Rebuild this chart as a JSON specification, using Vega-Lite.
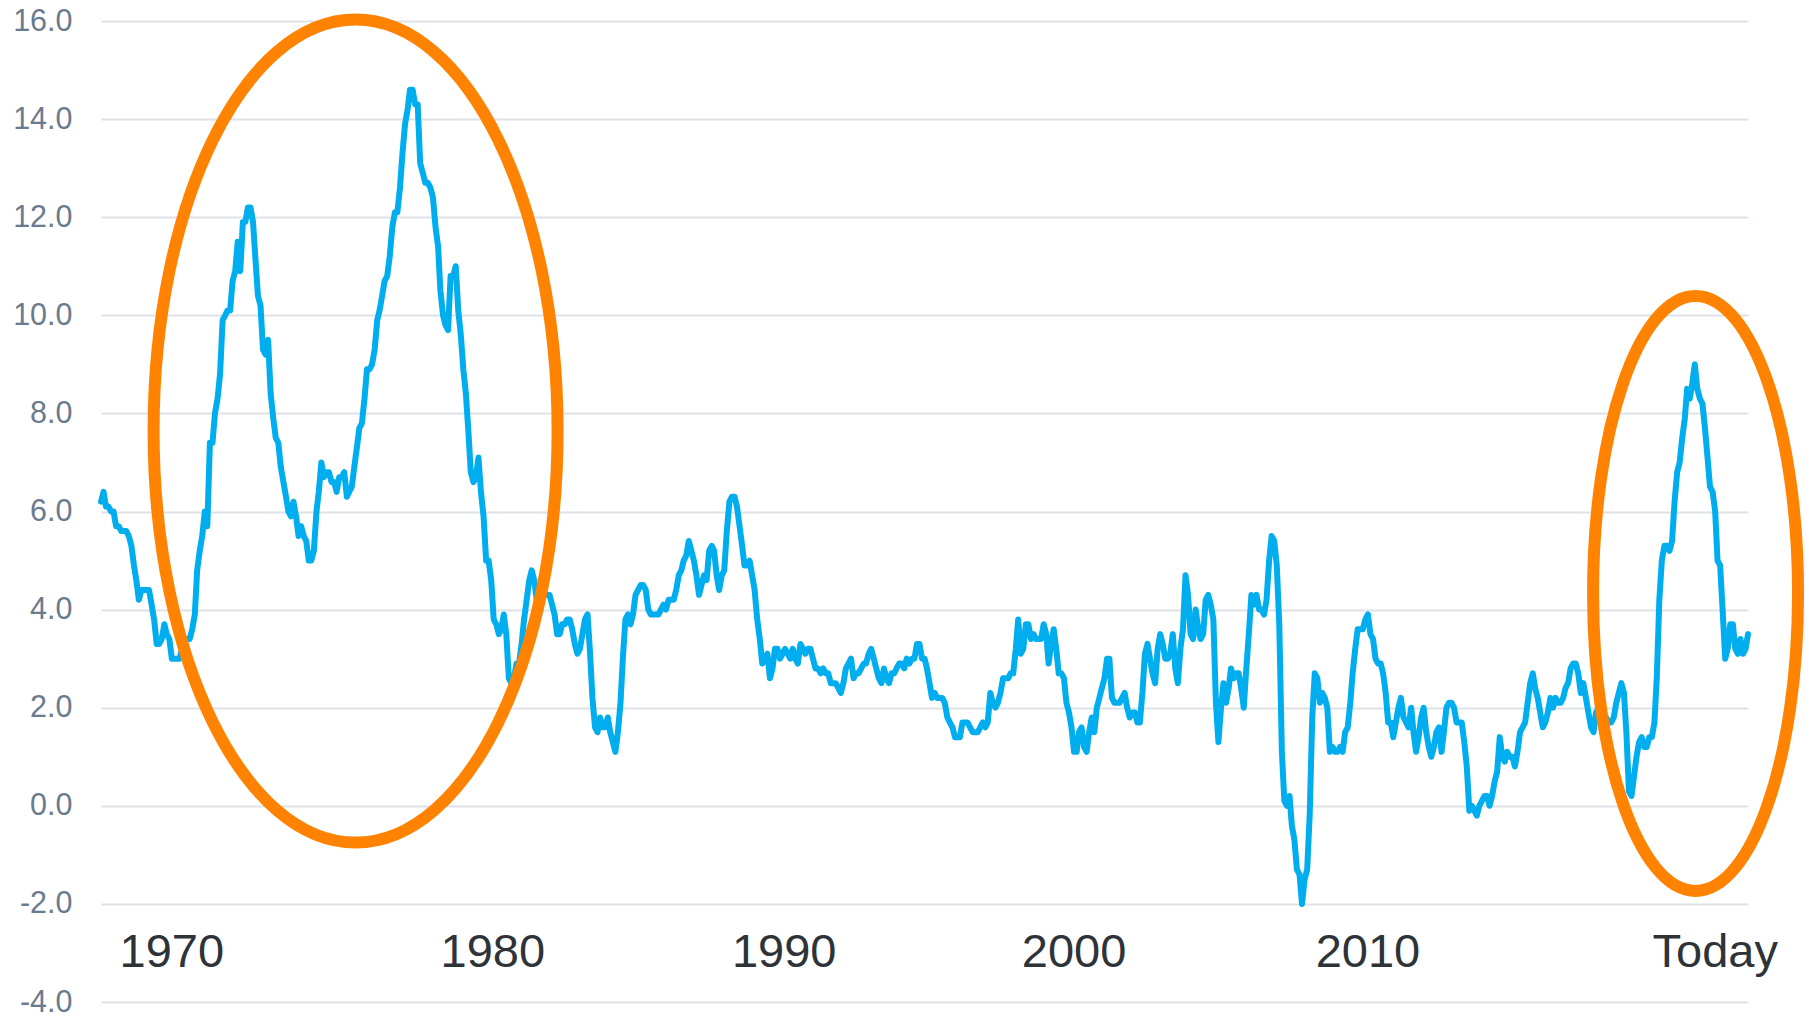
{
  "$schema": "https://vega.github.io/schema/vega-lite/v6.json",
  "width": 1647,
  "height": 981,
  "autosize": {"type": "none"},
  "padding": {"left": 101, "top": 21, "right": 66, "bottom": 15},
  "background": "white",
  "config": {"view": {"stroke": null}},
  "datasets": {
    "cpi": [
      {"d":"1970-01","v":6.2},{"d":"1970-02","v":6.4},{"d":"1970-03","v":6.1},{"d":"1970-04","v":6.1},{"d":"1970-05","v":6.0},{"d":"1970-06","v":6.0},{"d":"1970-07","v":5.7},{"d":"1970-08","v":5.7},{"d":"1970-09","v":5.6},{"d":"1970-10","v":5.6},{"d":"1970-11","v":5.6},{"d":"1970-12","v":5.5},
      {"d":"1971-01","v":5.3},{"d":"1971-02","v":4.9},{"d":"1971-03","v":4.6},{"d":"1971-04","v":4.2},{"d":"1971-05","v":4.4},{"d":"1971-06","v":4.4},{"d":"1971-07","v":4.4},{"d":"1971-08","v":4.4},{"d":"1971-09","v":4.1},{"d":"1971-10","v":3.8},{"d":"1971-11","v":3.3},{"d":"1971-12","v":3.3},
      {"d":"1972-01","v":3.4},{"d":"1972-02","v":3.7},{"d":"1972-03","v":3.5},{"d":"1972-04","v":3.4},{"d":"1972-05","v":3.0},{"d":"1972-06","v":3.0},{"d":"1972-07","v":3.0},{"d":"1972-08","v":3.0},{"d":"1972-09","v":3.2},{"d":"1972-10","v":3.4},{"d":"1972-11","v":3.4},{"d":"1972-12","v":3.4},
      {"d":"1973-01","v":3.6},{"d":"1973-02","v":3.9},{"d":"1973-03","v":4.8},{"d":"1973-04","v":5.2},{"d":"1973-05","v":5.5},{"d":"1973-06","v":6.0},{"d":"1973-07","v":5.7},{"d":"1973-08","v":7.4},{"d":"1973-09","v":7.4},{"d":"1973-10","v":8.0},{"d":"1973-11","v":8.3},{"d":"1973-12","v":8.8},
      {"d":"1974-01","v":9.9},{"d":"1974-02","v":10.0},{"d":"1974-03","v":10.1},{"d":"1974-04","v":10.1},{"d":"1974-05","v":10.7},{"d":"1974-06","v":10.9},{"d":"1974-07","v":11.5},{"d":"1974-08","v":10.9},{"d":"1974-09","v":11.9},{"d":"1974-10","v":11.9},{"d":"1974-11","v":12.2},{"d":"1974-12","v":12.2},
      {"d":"1975-01","v":11.9},{"d":"1975-02","v":11.1},{"d":"1975-03","v":10.4},{"d":"1975-04","v":10.2},{"d":"1975-05","v":9.3},{"d":"1975-06","v":9.2},{"d":"1975-07","v":9.5},{"d":"1975-08","v":8.4},{"d":"1975-09","v":7.9},{"d":"1975-10","v":7.5},{"d":"1975-11","v":7.4},{"d":"1975-12","v":6.9},
      {"d":"1976-01","v":6.6},{"d":"1976-02","v":6.3},{"d":"1976-03","v":6.0},{"d":"1976-04","v":5.9},{"d":"1976-05","v":6.2},{"d":"1976-06","v":5.9},{"d":"1976-07","v":5.5},{"d":"1976-08","v":5.7},{"d":"1976-09","v":5.5},{"d":"1976-10","v":5.4},{"d":"1976-11","v":5.0},{"d":"1976-12","v":5.0},
      {"d":"1977-01","v":5.2},{"d":"1977-02","v":6.0},{"d":"1977-03","v":6.4},{"d":"1977-04","v":7.0},{"d":"1977-05","v":6.7},{"d":"1977-06","v":6.8},{"d":"1977-07","v":6.8},{"d":"1977-08","v":6.6},{"d":"1977-09","v":6.6},{"d":"1977-10","v":6.4},{"d":"1977-11","v":6.7},{"d":"1977-12","v":6.7},
      {"d":"1978-01","v":6.8},{"d":"1978-02","v":6.3},{"d":"1978-03","v":6.4},{"d":"1978-04","v":6.5},{"d":"1978-05","v":6.9},{"d":"1978-06","v":7.3},{"d":"1978-07","v":7.7},{"d":"1978-08","v":7.8},{"d":"1978-09","v":8.3},{"d":"1978-10","v":8.9},{"d":"1978-11","v":8.9},{"d":"1978-12","v":9.0},
      {"d":"1979-01","v":9.3},{"d":"1979-02","v":9.9},{"d":"1979-03","v":10.1},{"d":"1979-04","v":10.4},{"d":"1979-05","v":10.7},{"d":"1979-06","v":10.8},{"d":"1979-07","v":11.2},{"d":"1979-08","v":11.8},{"d":"1979-09","v":12.1},{"d":"1979-10","v":12.1},{"d":"1979-11","v":12.6},{"d":"1979-12","v":13.3},
      {"d":"1980-01","v":13.9},{"d":"1980-02","v":14.2},{"d":"1980-03","v":14.6},{"d":"1980-04","v":14.6},{"d":"1980-05","v":14.3},{"d":"1980-06","v":14.3},{"d":"1980-07","v":13.1},{"d":"1980-08","v":12.9},{"d":"1980-09","v":12.7},{"d":"1980-10","v":12.7},{"d":"1980-11","v":12.6},{"d":"1980-12","v":12.4},
      {"d":"1981-01","v":11.8},{"d":"1981-02","v":11.4},{"d":"1981-03","v":10.5},{"d":"1981-04","v":10.0},{"d":"1981-05","v":9.8},{"d":"1981-06","v":9.7},{"d":"1981-07","v":10.8},{"d":"1981-08","v":10.8},{"d":"1981-09","v":11.0},{"d":"1981-10","v":10.1},{"d":"1981-11","v":9.6},{"d":"1981-12","v":8.9},
      {"d":"1982-01","v":8.4},{"d":"1982-02","v":7.6},{"d":"1982-03","v":6.8},{"d":"1982-04","v":6.6},{"d":"1982-05","v":6.7},{"d":"1982-06","v":7.1},{"d":"1982-07","v":6.4},{"d":"1982-08","v":5.9},{"d":"1982-09","v":5.0},{"d":"1982-10","v":5.0},{"d":"1982-11","v":4.6},{"d":"1982-12","v":3.8},
      {"d":"1983-01","v":3.7},{"d":"1983-02","v":3.5},{"d":"1983-03","v":3.6},{"d":"1983-04","v":3.9},{"d":"1983-05","v":3.5},{"d":"1983-06","v":2.6},{"d":"1983-07","v":2.5},{"d":"1983-08","v":2.6},{"d":"1983-09","v":2.9},{"d":"1983-10","v":2.9},{"d":"1983-11","v":3.3},{"d":"1983-12","v":3.8},
      {"d":"1984-01","v":4.2},{"d":"1984-02","v":4.6},{"d":"1984-03","v":4.8},{"d":"1984-04","v":4.6},{"d":"1984-05","v":4.2},{"d":"1984-06","v":4.2},{"d":"1984-07","v":4.2},{"d":"1984-08","v":4.3},{"d":"1984-09","v":4.3},{"d":"1984-10","v":4.3},{"d":"1984-11","v":4.1},{"d":"1984-12","v":3.9},
      {"d":"1985-01","v":3.5},{"d":"1985-02","v":3.5},{"d":"1985-03","v":3.7},{"d":"1985-04","v":3.7},{"d":"1985-05","v":3.8},{"d":"1985-06","v":3.8},{"d":"1985-07","v":3.6},{"d":"1985-08","v":3.3},{"d":"1985-09","v":3.1},{"d":"1985-10","v":3.2},{"d":"1985-11","v":3.5},{"d":"1985-12","v":3.8},
      {"d":"1986-01","v":3.9},{"d":"1986-02","v":3.1},{"d":"1986-03","v":2.2},{"d":"1986-04","v":1.6},{"d":"1986-05","v":1.5},{"d":"1986-06","v":1.8},{"d":"1986-07","v":1.6},{"d":"1986-08","v":1.6},{"d":"1986-09","v":1.8},{"d":"1986-10","v":1.5},{"d":"1986-11","v":1.3},{"d":"1986-12","v":1.1},
      {"d":"1987-01","v":1.5},{"d":"1987-02","v":2.1},{"d":"1987-03","v":3.0},{"d":"1987-04","v":3.8},{"d":"1987-05","v":3.9},{"d":"1987-06","v":3.7},{"d":"1987-07","v":3.9},{"d":"1987-08","v":4.3},{"d":"1987-09","v":4.4},{"d":"1987-10","v":4.5},{"d":"1987-11","v":4.5},{"d":"1987-12","v":4.4},
      {"d":"1988-01","v":4.0},{"d":"1988-02","v":3.9},{"d":"1988-03","v":3.9},{"d":"1988-04","v":3.9},{"d":"1988-05","v":3.9},{"d":"1988-06","v":4.0},{"d":"1988-07","v":4.1},{"d":"1988-08","v":4.0},{"d":"1988-09","v":4.2},{"d":"1988-10","v":4.2},{"d":"1988-11","v":4.2},{"d":"1988-12","v":4.4},
      {"d":"1989-01","v":4.7},{"d":"1989-02","v":4.8},{"d":"1989-03","v":5.0},{"d":"1989-04","v":5.1},{"d":"1989-05","v":5.4},{"d":"1989-06","v":5.2},{"d":"1989-07","v":5.0},{"d":"1989-08","v":4.7},{"d":"1989-09","v":4.3},{"d":"1989-10","v":4.5},{"d":"1989-11","v":4.7},{"d":"1989-12","v":4.6},
      {"d":"1990-01","v":5.2},{"d":"1990-02","v":5.3},{"d":"1990-03","v":5.2},{"d":"1990-04","v":4.7},{"d":"1990-05","v":4.4},{"d":"1990-06","v":4.7},{"d":"1990-07","v":4.8},{"d":"1990-08","v":5.6},{"d":"1990-09","v":6.2},{"d":"1990-10","v":6.3},{"d":"1990-11","v":6.3},{"d":"1990-12","v":6.1},
      {"d":"1991-01","v":5.7},{"d":"1991-02","v":5.3},{"d":"1991-03","v":4.9},{"d":"1991-04","v":4.9},{"d":"1991-05","v":5.0},{"d":"1991-06","v":4.7},{"d":"1991-07","v":4.4},{"d":"1991-08","v":3.8},{"d":"1991-09","v":3.4},{"d":"1991-10","v":2.9},{"d":"1991-11","v":3.0},{"d":"1991-12","v":3.1},
      {"d":"1992-01","v":2.6},{"d":"1992-02","v":2.8},{"d":"1992-03","v":3.2},{"d":"1992-04","v":3.2},{"d":"1992-05","v":3.0},{"d":"1992-06","v":3.1},{"d":"1992-07","v":3.2},{"d":"1992-08","v":3.1},{"d":"1992-09","v":3.0},{"d":"1992-10","v":3.2},{"d":"1992-11","v":3.0},{"d":"1992-12","v":2.9},
      {"d":"1993-01","v":3.3},{"d":"1993-02","v":3.2},{"d":"1993-03","v":3.1},{"d":"1993-04","v":3.2},{"d":"1993-05","v":3.2},{"d":"1993-06","v":3.0},{"d":"1993-07","v":2.8},{"d":"1993-08","v":2.8},{"d":"1993-09","v":2.7},{"d":"1993-10","v":2.8},{"d":"1993-11","v":2.7},{"d":"1993-12","v":2.7},
      {"d":"1994-01","v":2.5},{"d":"1994-02","v":2.5},{"d":"1994-03","v":2.5},{"d":"1994-04","v":2.4},{"d":"1994-05","v":2.3},{"d":"1994-06","v":2.5},{"d":"1994-07","v":2.8},{"d":"1994-08","v":2.9},{"d":"1994-09","v":3.0},{"d":"1994-10","v":2.6},{"d":"1994-11","v":2.7},{"d":"1994-12","v":2.7},
      {"d":"1995-01","v":2.8},{"d":"1995-02","v":2.9},{"d":"1995-03","v":2.9},{"d":"1995-04","v":3.1},{"d":"1995-05","v":3.2},{"d":"1995-06","v":3.0},{"d":"1995-07","v":2.8},{"d":"1995-08","v":2.6},{"d":"1995-09","v":2.5},{"d":"1995-10","v":2.8},{"d":"1995-11","v":2.6},{"d":"1995-12","v":2.5},
      {"d":"1996-01","v":2.7},{"d":"1996-02","v":2.7},{"d":"1996-03","v":2.8},{"d":"1996-04","v":2.9},{"d":"1996-05","v":2.9},{"d":"1996-06","v":2.8},{"d":"1996-07","v":3.0},{"d":"1996-08","v":2.9},{"d":"1996-09","v":3.0},{"d":"1996-10","v":3.0},{"d":"1996-11","v":3.3},{"d":"1996-12","v":3.3},
      {"d":"1997-01","v":3.0},{"d":"1997-02","v":3.0},{"d":"1997-03","v":2.8},{"d":"1997-04","v":2.5},{"d":"1997-05","v":2.2},{"d":"1997-06","v":2.3},{"d":"1997-07","v":2.2},{"d":"1997-08","v":2.2},{"d":"1997-09","v":2.2},{"d":"1997-10","v":2.1},{"d":"1997-11","v":1.8},{"d":"1997-12","v":1.7},
      {"d":"1998-01","v":1.6},{"d":"1998-02","v":1.4},{"d":"1998-03","v":1.4},{"d":"1998-04","v":1.4},{"d":"1998-05","v":1.7},{"d":"1998-06","v":1.7},{"d":"1998-07","v":1.7},{"d":"1998-08","v":1.6},{"d":"1998-09","v":1.5},{"d":"1998-10","v":1.5},{"d":"1998-11","v":1.5},{"d":"1998-12","v":1.6},
      {"d":"1999-01","v":1.7},{"d":"1999-02","v":1.6},{"d":"1999-03","v":1.7},{"d":"1999-04","v":2.3},{"d":"1999-05","v":2.1},{"d":"1999-06","v":2.0},{"d":"1999-07","v":2.1},{"d":"1999-08","v":2.3},{"d":"1999-09","v":2.6},{"d":"1999-10","v":2.6},{"d":"1999-11","v":2.6},{"d":"1999-12","v":2.7},
      {"d":"2000-01","v":2.7},{"d":"2000-02","v":3.2},{"d":"2000-03","v":3.8},{"d":"2000-04","v":3.1},{"d":"2000-05","v":3.2},{"d":"2000-06","v":3.7},{"d":"2000-07","v":3.7},{"d":"2000-08","v":3.4},{"d":"2000-09","v":3.5},{"d":"2000-10","v":3.4},{"d":"2000-11","v":3.4},{"d":"2000-12","v":3.4},
      {"d":"2001-01","v":3.7},{"d":"2001-02","v":3.5},{"d":"2001-03","v":2.9},{"d":"2001-04","v":3.3},{"d":"2001-05","v":3.6},{"d":"2001-06","v":3.2},{"d":"2001-07","v":2.7},{"d":"2001-08","v":2.7},{"d":"2001-09","v":2.6},{"d":"2001-10","v":2.1},{"d":"2001-11","v":1.9},{"d":"2001-12","v":1.6},
      {"d":"2002-01","v":1.1},{"d":"2002-02","v":1.1},{"d":"2002-03","v":1.5},{"d":"2002-04","v":1.6},{"d":"2002-05","v":1.2},{"d":"2002-06","v":1.1},{"d":"2002-07","v":1.5},{"d":"2002-08","v":1.8},{"d":"2002-09","v":1.5},{"d":"2002-10","v":2.0},{"d":"2002-11","v":2.2},{"d":"2002-12","v":2.4},
      {"d":"2003-01","v":2.6},{"d":"2003-02","v":3.0},{"d":"2003-03","v":3.0},{"d":"2003-04","v":2.2},{"d":"2003-05","v":2.1},{"d":"2003-06","v":2.1},{"d":"2003-07","v":2.1},{"d":"2003-08","v":2.2},{"d":"2003-09","v":2.3},{"d":"2003-10","v":2.0},{"d":"2003-11","v":1.8},{"d":"2003-12","v":1.9},
      {"d":"2004-01","v":1.9},{"d":"2004-02","v":1.7},{"d":"2004-03","v":1.7},{"d":"2004-04","v":2.3},{"d":"2004-05","v":3.1},{"d":"2004-06","v":3.3},{"d":"2004-07","v":3.0},{"d":"2004-08","v":2.7},{"d":"2004-09","v":2.5},{"d":"2004-10","v":3.2},{"d":"2004-11","v":3.5},{"d":"2004-12","v":3.3},
      {"d":"2005-01","v":3.0},{"d":"2005-02","v":3.0},{"d":"2005-03","v":3.1},{"d":"2005-04","v":3.5},{"d":"2005-05","v":2.8},{"d":"2005-06","v":2.5},{"d":"2005-07","v":3.2},{"d":"2005-08","v":3.6},{"d":"2005-09","v":4.7},{"d":"2005-10","v":4.3},{"d":"2005-11","v":3.5},{"d":"2005-12","v":3.4},
      {"d":"2006-01","v":4.0},{"d":"2006-02","v":3.6},{"d":"2006-03","v":3.4},{"d":"2006-04","v":3.5},{"d":"2006-05","v":4.2},{"d":"2006-06","v":4.3},{"d":"2006-07","v":4.1},{"d":"2006-08","v":3.8},{"d":"2006-09","v":2.1},{"d":"2006-10","v":1.3},{"d":"2006-11","v":2.0},{"d":"2006-12","v":2.5},
      {"d":"2007-01","v":2.1},{"d":"2007-02","v":2.4},{"d":"2007-03","v":2.8},{"d":"2007-04","v":2.6},{"d":"2007-05","v":2.7},{"d":"2007-06","v":2.7},{"d":"2007-07","v":2.4},{"d":"2007-08","v":2.0},{"d":"2007-09","v":2.8},{"d":"2007-10","v":3.5},{"d":"2007-11","v":4.3},{"d":"2007-12","v":4.1},
      {"d":"2008-01","v":4.3},{"d":"2008-02","v":4.0},{"d":"2008-03","v":4.0},{"d":"2008-04","v":3.9},{"d":"2008-05","v":4.2},{"d":"2008-06","v":5.0},{"d":"2008-07","v":5.5},{"d":"2008-08","v":5.4},{"d":"2008-09","v":4.9},{"d":"2008-10","v":3.7},{"d":"2008-11","v":1.1},{"d":"2008-12","v":0.1},
      {"d":"2009-01","v":0.0},{"d":"2009-02","v":0.2},{"d":"2009-03","v":-0.4},{"d":"2009-04","v":-0.7},{"d":"2009-05","v":-1.3},{"d":"2009-06","v":-1.4},{"d":"2009-07","v":-2.0},{"d":"2009-08","v":-1.5},{"d":"2009-09","v":-1.3},{"d":"2009-10","v":-0.2},{"d":"2009-11","v":1.8},{"d":"2009-12","v":2.7},
      {"d":"2010-01","v":2.6},{"d":"2010-02","v":2.1},{"d":"2010-03","v":2.3},{"d":"2010-04","v":2.2},{"d":"2010-05","v":2.0},{"d":"2010-06","v":1.1},{"d":"2010-07","v":1.2},{"d":"2010-08","v":1.1},{"d":"2010-09","v":1.1},{"d":"2010-10","v":1.2},{"d":"2010-11","v":1.1},{"d":"2010-12","v":1.5},
      {"d":"2011-01","v":1.6},{"d":"2011-02","v":2.1},{"d":"2011-03","v":2.7},{"d":"2011-04","v":3.2},{"d":"2011-05","v":3.6},{"d":"2011-06","v":3.6},{"d":"2011-07","v":3.6},{"d":"2011-08","v":3.8},{"d":"2011-09","v":3.9},{"d":"2011-10","v":3.5},{"d":"2011-11","v":3.4},{"d":"2011-12","v":3.0},
      {"d":"2012-01","v":2.9},{"d":"2012-02","v":2.9},{"d":"2012-03","v":2.7},{"d":"2012-04","v":2.3},{"d":"2012-05","v":1.7},{"d":"2012-06","v":1.7},{"d":"2012-07","v":1.4},{"d":"2012-08","v":1.7},{"d":"2012-09","v":2.0},{"d":"2012-10","v":2.2},{"d":"2012-11","v":1.8},{"d":"2012-12","v":1.7},
      {"d":"2013-01","v":1.6},{"d":"2013-02","v":2.0},{"d":"2013-03","v":1.5},{"d":"2013-04","v":1.1},{"d":"2013-05","v":1.4},{"d":"2013-06","v":1.8},{"d":"2013-07","v":2.0},{"d":"2013-08","v":1.5},{"d":"2013-09","v":1.2},{"d":"2013-10","v":1.0},{"d":"2013-11","v":1.2},{"d":"2013-12","v":1.5},
      {"d":"2014-01","v":1.6},{"d":"2014-02","v":1.1},{"d":"2014-03","v":1.5},{"d":"2014-04","v":2.0},{"d":"2014-05","v":2.1},{"d":"2014-06","v":2.1},{"d":"2014-07","v":2.0},{"d":"2014-08","v":1.7},{"d":"2014-09","v":1.7},{"d":"2014-10","v":1.7},{"d":"2014-11","v":1.3},{"d":"2014-12","v":0.8},
      {"d":"2015-01","v":-0.1},{"d":"2015-02","v":0.0},{"d":"2015-03","v":-0.1},{"d":"2015-04","v":-0.2},{"d":"2015-05","v":0.0},{"d":"2015-06","v":0.1},{"d":"2015-07","v":0.2},{"d":"2015-08","v":0.2},{"d":"2015-09","v":0.0},{"d":"2015-10","v":0.2},{"d":"2015-11","v":0.5},{"d":"2015-12","v":0.7},
      {"d":"2016-01","v":1.4},{"d":"2016-02","v":1.0},{"d":"2016-03","v":0.9},{"d":"2016-04","v":1.1},{"d":"2016-05","v":1.0},{"d":"2016-06","v":1.0},{"d":"2016-07","v":0.8},{"d":"2016-08","v":1.1},{"d":"2016-09","v":1.5},{"d":"2016-10","v":1.6},{"d":"2016-11","v":1.7},{"d":"2016-12","v":2.1},
      {"d":"2017-01","v":2.5},{"d":"2017-02","v":2.7},{"d":"2017-03","v":2.4},{"d":"2017-04","v":2.2},{"d":"2017-05","v":1.9},{"d":"2017-06","v":1.6},{"d":"2017-07","v":1.7},{"d":"2017-08","v":1.9},{"d":"2017-09","v":2.2},{"d":"2017-10","v":2.0},{"d":"2017-11","v":2.2},{"d":"2017-12","v":2.1},
      {"d":"2018-01","v":2.1},{"d":"2018-02","v":2.2},{"d":"2018-03","v":2.4},{"d":"2018-04","v":2.5},{"d":"2018-05","v":2.8},{"d":"2018-06","v":2.9},{"d":"2018-07","v":2.9},{"d":"2018-08","v":2.7},{"d":"2018-09","v":2.3},{"d":"2018-10","v":2.5},{"d":"2018-11","v":2.2},{"d":"2018-12","v":1.9},
      {"d":"2019-01","v":1.6},{"d":"2019-02","v":1.5},{"d":"2019-03","v":1.9},{"d":"2019-04","v":2.0},{"d":"2019-05","v":1.8},{"d":"2019-06","v":1.6},{"d":"2019-07","v":1.8},{"d":"2019-08","v":1.7},{"d":"2019-09","v":1.7},{"d":"2019-10","v":1.8},{"d":"2019-11","v":2.1},{"d":"2019-12","v":2.3},
      {"d":"2020-01","v":2.5},{"d":"2020-02","v":2.3},{"d":"2020-03","v":1.5},{"d":"2020-04","v":0.3},{"d":"2020-05","v":0.2},{"d":"2020-06","v":0.6},{"d":"2020-07","v":1.0},{"d":"2020-08","v":1.3},{"d":"2020-09","v":1.4},{"d":"2020-10","v":1.2},{"d":"2020-11","v":1.2},{"d":"2020-12","v":1.4},
      {"d":"2021-01","v":1.4},{"d":"2021-02","v":1.7},{"d":"2021-03","v":2.6},{"d":"2021-04","v":4.2},{"d":"2021-05","v":5.0},{"d":"2021-06","v":5.3},{"d":"2021-07","v":5.3},{"d":"2021-08","v":5.2},{"d":"2021-09","v":5.4},{"d":"2021-10","v":6.2},{"d":"2021-11","v":6.8},{"d":"2021-12","v":7.0},
      {"d":"2022-01","v":7.5},{"d":"2022-02","v":7.9},{"d":"2022-03","v":8.5},{"d":"2022-04","v":8.3},{"d":"2022-05","v":8.6},{"d":"2022-06","v":9.0},{"d":"2022-07","v":8.5},{"d":"2022-08","v":8.3},{"d":"2022-09","v":8.2},{"d":"2022-10","v":7.7},{"d":"2022-11","v":7.1},{"d":"2022-12","v":6.5},
      {"d":"2023-01","v":6.4},{"d":"2023-02","v":6.0},{"d":"2023-03","v":5.0},{"d":"2023-04","v":4.9},{"d":"2023-05","v":4.0},{"d":"2023-06","v":3.0},{"d":"2023-07","v":3.2},{"d":"2023-08","v":3.7},{"d":"2023-09","v":3.7},{"d":"2023-10","v":3.2},{"d":"2023-11","v":3.1},{"d":"2023-12","v":3.4},
      {"d":"2024-01","v":3.1},{"d":"2024-02","v":3.2},{"d":"2024-03","v":3.5}
    ],
    "decades": [
      {"d":"1972-05-01","t":"1970","v":-3},
      {"d":"1982-11-20","t":"1980","v":-3},
      {"d":"1992-06-20","t":"1990","v":-3},
      {"d":"2002-01-01","t":"2000","v":-3},
      {"d":"2011-09-01","t":"2010","v":-3},
      {"d":"2023-02-01","t":"Today","v":-3}
    ],
    "ring1": [{"d":"1978-05-17","v":7.64}],
    "ring2": [{"d":"2022-06-10","v":4.33}]
  },
  "encoding": {
    "x": {
      "field": "d",
      "type": "temporal",
      "scale": {"domain": [{"year":1970,"month":1,"date":1,"utc":true},{"year":2024,"month":3,"date":1,"utc":true}], "nice": false, "padding": 0},
      "axis": null
    },
    "y": {
      "field": "v",
      "type": "quantitative",
      "scale": {"domain": [-4, 16], "nice": false, "zero": false},
      "axis": {
        "values": [-4, -2, 0, 2, 4, 6, 8, 10, 12, 14, 16],
        "labelExpr": "(datum.value < 0 ? '-' : '') + format(abs(datum.value), '.1f')",
        "labelFont": "Liberation Sans",
        "labelFontSize": 30.5,
        "labelColor": "#6b7b8e",
        "labelPadding": 29,
        "ticks": false,
        "domain": false,
        "grid": true,
        "gridColor": "#dee2e7",
        "gridWidth": 2,
        "title": null
      }
    }
  },
  "layer": [
    {
      "data": {"name": "cpi"},
      "mark": {"type": "line", "color": "#00AEEF", "strokeWidth": 6, "strokeJoin": "round", "strokeCap": "round", "clip": false}
    },
    {
      "data": {"name": "decades"},
      "mark": {"type": "text", "font": "Liberation Sans", "fontSize": 47, "fill": "#2e3338", "align": "center", "baseline": "middle"},
      "encoding": {
        "text": {"field": "t", "type": "nominal"}
      }
    },
    {
      "data": {"name": "ring1"},
      "mark": {
        "type": "point",
        "shape": "M 0.4909 0 C 0.4909 0.5523 0.2711 1 0 1 C -0.2711 1 -0.4909 0.5523 -0.4909 0 C -0.4909 -0.5523 -0.2711 -1 0 -1 C 0.2711 -1 0.4909 -0.5523 0.4909 0 Z",
        "size": 677329,
        "filled": false,
        "color": "#FF8300",
        "strokeWidth": 12,
        "opacity": 1
      }
    },
    {
      "data": {"name": "ring2"},
      "mark": {
        "type": "point",
        "shape": "M 0.3445 0 C 0.3445 0.5523 0.1903 1 0 1 C -0.1903 1 -0.3445 0.5523 -0.3445 0 C -0.3445 -0.5523 -0.1903 -1 0 -1 C 0.1903 -1 0.3445 -0.5523 0.3445 0 Z",
        "size": 354025,
        "filled": false,
        "color": "#FF8300",
        "strokeWidth": 12,
        "opacity": 1
      }
    }
  ]
}
